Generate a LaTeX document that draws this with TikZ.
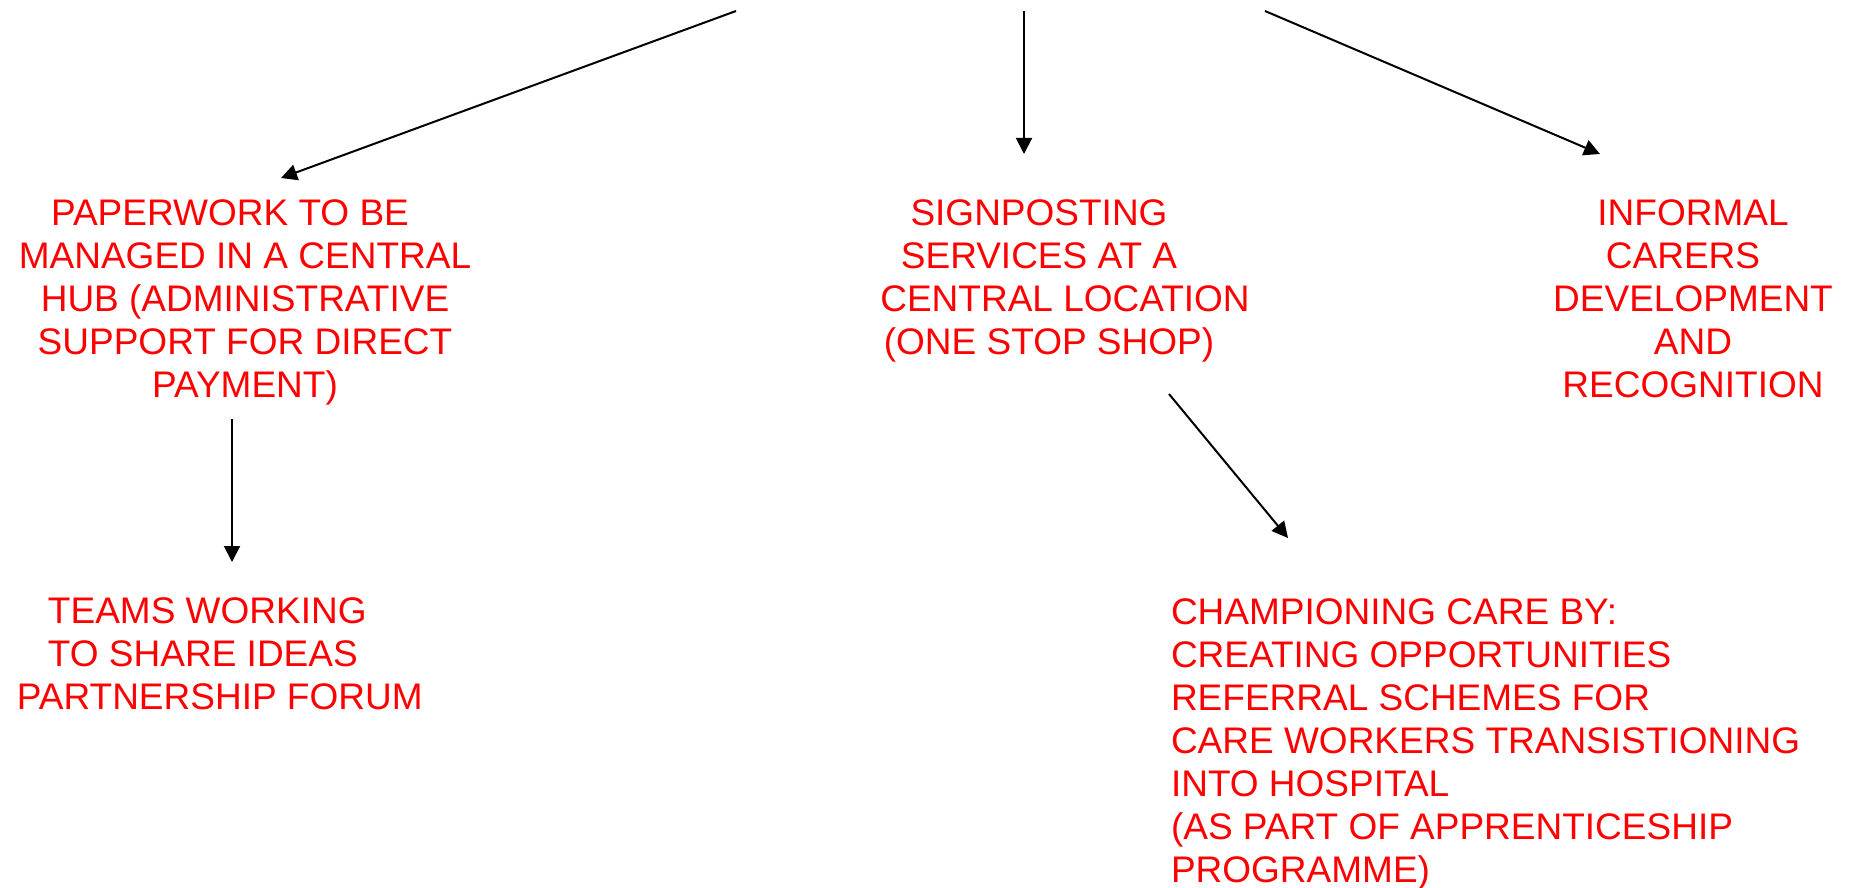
\documentclass[tikz,border=0pt]{standalone}
\usepackage{fontspec}
\setmainfont{Liberation Sans}
\usetikzlibrary{arrows.meta}
\definecolor{txtred}{RGB}{255,0,0}
\tikzset{
  lbl/.style={text=txtred, inner sep=0pt, outer sep=0pt,
    font=\fontsize{18.5pt}{21.5pt}\selectfont},
  conn/.style={draw=black, line width=1pt,
    -{Triangle[length=8pt,width=8pt]}}
}
\begin{document}
\begin{tikzpicture}[x=0.5pt,y=-0.5pt]
\useasboundingbox (0,0) rectangle (1852,888);
% text blocks (anchor = baseline of the last line)
\node[lbl, align=center, anchor=base] (paper) at (245,397)
  {PAPERWORK TO BE\kern15pt\\ MANAGED IN A CENTRAL\\ HUB (ADMINISTRATIVE\\ SUPPORT FOR DIRECT\\ PAYMENT)};
\node[lbl, align=center, anchor=base] (sign) at (1049,354)
  {SIGNPOSTING\kern10pt\\ SERVICES AT A\kern10pt\\ \kern16pt CENTRAL LOCATION\\ (ONE STOP SHOP)};
\node[lbl, align=center, anchor=base] (informal) at (1693,397)
  {INFORMAL\\ CARERS\kern10pt\\ DEVELOPMENT\\ AND\\ RECOGNITION};
\node[lbl, align=left, anchor=base west] (teams) at (17,709)
  {\kern15.5pt TEAMS WORKING\\ \kern15.5pt TO SHARE IDEAS\\ PARTNERSHIP FORUM};
\node[lbl, align=left, anchor=base west] (champ) at (1171,882)
  {CHAMPIONING CARE BY:\\ CREATING OPPORTUNITIES\\ REFERRAL SCHEMES FOR\\ CARE WORKERS TRANSISTIONING\\ INTO HOSPITAL\\ (AS PART OF APPRENTICESHIP\\ PROGRAMME)};
% connector end points
\coordinate (s1) at (736,11);
\coordinate (e1) at (281,178);
\coordinate (s2) at (1024,11);
\coordinate (e2) at (1024,154);
\coordinate (s3) at (1265,11);
\coordinate (e3) at (1600,154);
\coordinate (s4) at (232,419);
\coordinate (e4) at (232,562);
\coordinate (s5) at (1169,394);
\coordinate (e5) at (1288,538);
% connectors
\draw[conn] (s1) -- (e1);
\draw[conn] (s2) -- (e2);
\draw[conn] (s3) -- (e3);
\draw[conn] (s4) -- (e4);
\draw[conn] (s5) -- (e5);
\end{tikzpicture}
\end{document}
